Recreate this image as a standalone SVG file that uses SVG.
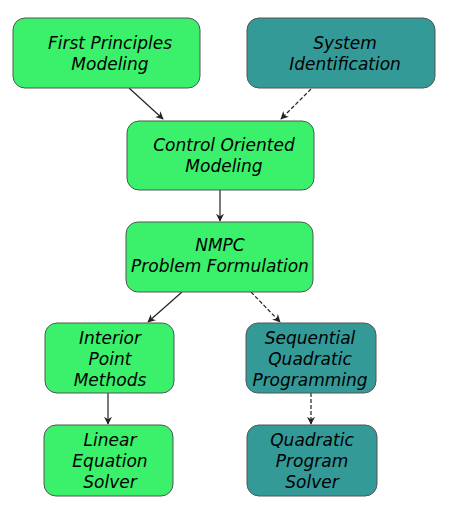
<svg xmlns="http://www.w3.org/2000/svg" width="459" height="515" viewBox="0 0 459 515">
<style>
.g{fill:#3bf06a;stroke:#555;stroke-width:1}
.t{fill:#339a98;stroke:#555;stroke-width:1}
text{font-family:"DejaVu Sans",sans-serif;font-size:17px;font-style:italic;fill:#000;text-anchor:middle}
.e{stroke:#222;stroke-width:1.2;fill:none;marker-end:url(#a)}
.d{stroke-dasharray:4 2}
</style>
<defs>
<marker id="a" viewBox="0 0 10 10" refX="9" refY="5" markerWidth="8" markerHeight="8" orient="auto" markerUnits="userSpaceOnUse">
<path d="M0,0 L10,5 L0,10 L3,5 Z" fill="#222"/>
</marker>
</defs>
<rect width="459" height="515" fill="#fff"/>
<g id="edges">
<line class="e" x1="129" y1="88" x2="163" y2="119"/>
<line class="e d" x1="311" y1="89" x2="281" y2="119"/>
<line class="e" x1="220" y1="190" x2="220" y2="221"/>
<line class="e" x1="182" y1="292" x2="148" y2="322"/>
<line class="e d" x1="251" y1="292" x2="280" y2="322"/>
<line class="e" x1="108" y1="393" x2="108" y2="424"/>
<line class="e d" x1="311" y1="393" x2="311" y2="424"/>
</g>
<g id="n1"><rect class="g" x="13" y="18" width="187" height="70" rx="12"/><text x="110" y="49">First Principles</text><text x="110" y="70">Modeling</text></g>
<g id="n2"><rect class="t" x="247" y="18" width="188" height="70" rx="12"/><text x="345" y="49">System</text><text x="345" y="70">Identification</text></g>
<g id="n3"><rect class="g" x="127" y="121" width="187" height="69" rx="12"/><text x="224" y="151">Control Oriented</text><text x="224" y="172">Modeling</text></g>
<g id="n4"><rect class="g" x="126" y="222" width="187" height="70" rx="12"/><text x="220" y="251">NMPC</text><text x="220" y="272">Problem Formulation</text></g>
<g id="n5"><rect class="g" x="45" y="323" width="129" height="70" rx="12"/><text x="110" y="344">Interior</text><text x="110" y="365">Point</text><text x="110" y="386">Methods</text></g>
<g id="n6"><rect class="t" x="246" y="323" width="130" height="70" rx="12"/><text x="310" y="344">Sequential</text><text x="310" y="365">Quadratic</text><text x="310" y="386">Programming</text></g>
<g id="n7"><rect class="g" x="44" y="425" width="129" height="71" rx="12"/><text x="110" y="446">Linear</text><text x="110" y="467">Equation</text><text x="110" y="488">Solver</text></g>
<g id="n8"><rect class="t" x="247" y="425" width="130" height="71" rx="12"/><text x="312" y="446">Quadratic</text><text x="312" y="467">Program</text><text x="312" y="488">Solver</text></g>
</svg>
